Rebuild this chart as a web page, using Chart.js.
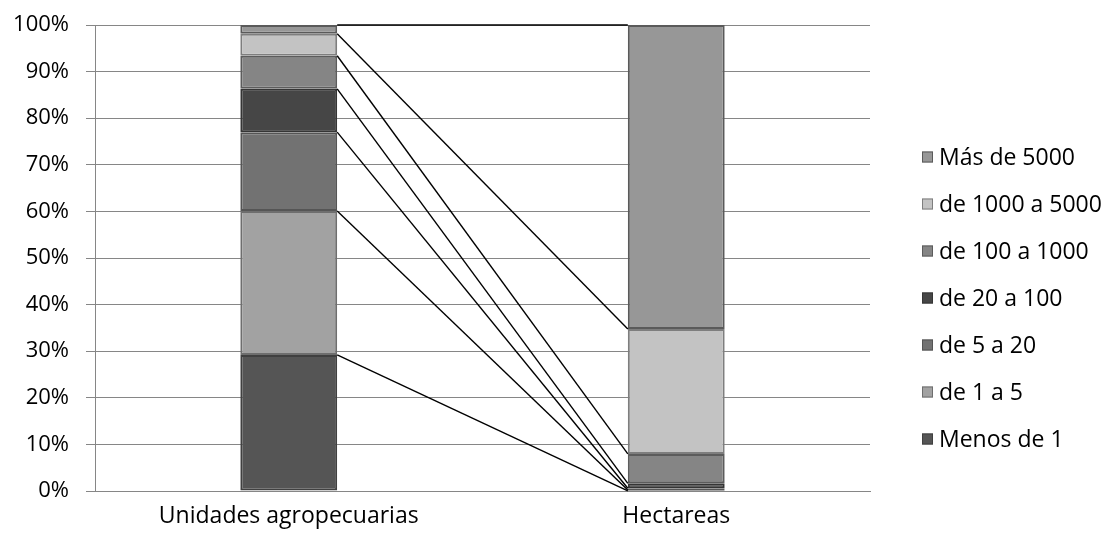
<!DOCTYPE html>
<html>
<head>
<meta charset="utf-8">
<title>Unidades agropecuarias y hectareas por tamaño</title>
<script src="https://cdn.jsdelivr.net/npm/chart.js@4/dist/chart.umd.min.js"></script>
<style>
  html, body { margin: 0; padding: 0; background: #ffffff; }
  canvas { display: block; }
</style>
</head>
<body>
<canvas id="chart" width="1105" height="537"></canvas>
<script>
// Categories on the x axis
const categories = ['Unidades agropecuarias', 'Hectareas'];

// Size classes, bottom of the stack first
const sizeClasses = ['Menos de 1', 'de 1 a 5', 'de 5 a 20', 'de 20 a 100', 'de 100 a 1000', 'de 1000 a 5000', 'Más de 5000'];

// Share (%) of units and of hectares for each size class
const menosDe1     = [29.2, 0.05];
const de1a5        = [30.9, 0.15];
const de5a20       = [16.9, 0.4];
const de20a100     = [9.3, 1.05];
const de100a1000   = [7.1, 6.3];
const de1000a5000  = [4.7, 26.8];
const masDe5000    = [1.9, 65.25];

// Y axis ticks (percent)
const yTicks = [0, 10, 20, 30, 40, 50, 60, 70, 80, 90, 100];

const seriesValues = [menosDe1, de1a5, de5a20, de20a100, de100a1000, de1000a5000, masDe5000];

const fills   = ['#555555', '#a2a2a2', '#727272', '#464646', '#858585', '#c3c3c3', '#979797'];
const borders = ['#404040', '#6e6e6e', '#555555', '#353535', '#5c5c5c', '#7e7e7e', '#5a5a5a'];

const FONT = "'Open Sans', 'DejaVu Sans', sans-serif";

// Series lines joining the top of each segment across the two bars
const seriesLines = {
  id: 'seriesLines',
  afterDatasetsDraw(chart) {
    const ctx = chart.ctx;
    ctx.save();
    ctx.strokeStyle = '#000000';
    ctx.lineWidth = 1.4;
    chart.data.datasets.forEach((ds, i) => {
      const meta = chart.getDatasetMeta(i);
      const a = meta.data[0], b = meta.data[1];
      if (!a || !b) return;
      ctx.beginPath();
      ctx.moveTo(a.x + a.width / 2, a.y);
      ctx.lineTo(b.x - b.width / 2, b.y);
      ctx.stroke();
    });
    ctx.restore();
  }
};

// Legend on the right, largest class at the top
const sideLegend = {
  id: 'sideLegend',
  afterDraw(chart) {
    const ctx = chart.ctx;
    const x0 = 922, y0 = 157, step = 47, box = 11;
    ctx.save();
    ctx.font = '23px ' + FONT;
    ctx.textBaseline = 'middle';
    ctx.textAlign = 'left';
    const n = chart.data.datasets.length;
    for (let k = 0; k < n; k++) {
      const ds = chart.data.datasets[n - 1 - k];
      const y = y0 + k * step;
      ctx.fillStyle = ds.backgroundColor;
      ctx.fillRect(x0, y - box / 2, box, box);
      ctx.strokeStyle = ds.borderColor;
      ctx.lineWidth = 1;
      ctx.strokeRect(x0 + 0.5, y - box / 2 + 0.5, box - 1, box - 1);
      ctx.fillStyle = '#000000';
      ctx.fillText(ds.label, x0 + 17, y + 1);
    }
    ctx.restore();
  }
};

new Chart(document.getElementById('chart'), {
  type: 'bar',
  data: {
    labels: categories,
    datasets: sizeClasses.map((name, i) => ({
      label: name,
      data: seriesValues[i],
      backgroundColor: fills[i],
      borderColor: borders[i],
      borderWidth: 2,
      borderSkipped: false,
      categoryPercentage: 1,
      barPercentage: 0.25
    }))
  },
  options: {
    responsive: false,
    animation: false,
    layout: { padding: { top: 25, right: 235, bottom: 0, left: 0 } },
    plugins: {
      legend: { display: false },
      tooltip: { enabled: false }
    },
    scales: {
      x: {
        stacked: true,
        grid: { display: false, drawTicks: false },
        border: { display: true, color: '#868686' },
        ticks: { color: '#000000', font: { family: FONT, size: 23 }, padding: 12 },
        afterFit(scale) { scale.height = 46; }
      },
      y: {
        stacked: true,
        min: 0,
        max: 100,
        afterBuildTicks(scale) { scale.ticks = yTicks.map(v => ({ value: v })); },
        grid: { color: '#868686', lineWidth: 1, tickLength: 9, drawTicks: true },
        border: { display: true, color: '#868686' },
        ticks: {
          color: '#000000',
          font: { family: FONT, size: 22, lineHeight: 0.6 },
          padding: 17,
          callback: v => v + '%'
        },
        afterFit(scale) { scale.width = 95; }
      }
    }
  },
  plugins: [seriesLines, sideLegend]
});
</script>
</body>
</html>
